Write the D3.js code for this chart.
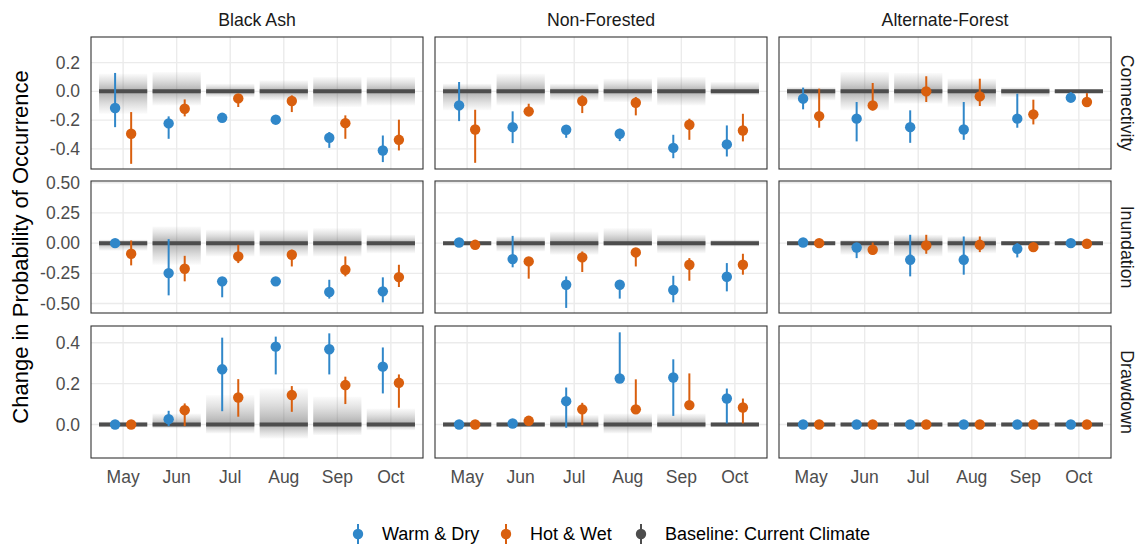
<!DOCTYPE html>
<html>
<head>
<meta charset="utf-8">
<script src="https://cdn.jsdelivr.net/npm/d3@7"></script>
<style>
body { margin: 0; background: #fff; }
text { font-family: "Liberation Sans", Arial, sans-serif; }
</style>
</head>
<body>
<svg width="1143" height="547"></svg>
<script>
var months = ["May", "Jun", "Jul", "Aug", "Sep", "Oct"];
var habitats = ["Black Ash", "Non-Forested", "Alternate-Forest"];
var metrics = ["Connectivity", "Inundation", "Drawdown"];

// [metric][habitat][month]
var warmMid = [
  [[-0.116,-0.223,-0.184,-0.197,-0.323,-0.411],[-0.098,-0.249,-0.267,-0.295,-0.393,-0.369],[-0.051,-0.19,-0.249,-0.265,-0.19,-0.044]],
  [[0.0,-0.248,-0.316,-0.316,-0.404,-0.399],[0.005,-0.132,-0.344,-0.344,-0.388,-0.278],[0.005,-0.036,-0.138,-0.138,-0.047,0.0]],
  [[0.0,0.026,0.27,0.381,0.368,0.283],[0.0,0.005,0.114,0.225,0.23,0.127],[0,0,0,0,0,0]]
];
var warmLo = [
  [[-0.249,-0.33,-0.2,-0.21,-0.393,-0.492],[-0.207,-0.36,-0.323,-0.346,-0.465,-0.453],[-0.125,-0.348,-0.358,-0.337,-0.253,-0.063]],
  [[0.0,-0.432,-0.448,-0.316,-0.459,-0.49],[0.005,-0.2,-0.536,-0.459,-0.49,-0.399],[0.005,-0.124,-0.275,-0.261,-0.118,0.0]],
  [[0.0,-0.008,0.065,0.245,0.245,0.152],[0.0,0.005,-0.016,0.209,0.042,0.005],[0,0,0,0,0,0]]
];
var warmHi = [
  [[0.128,-0.174,-0.17,-0.18,-0.283,-0.307],[0.065,-0.139,-0.237,-0.26,-0.302,-0.237],[0.026,-0.074,-0.132,-0.074,-0.016,-0.005]],
  [[0.0,0.033,-0.289,-0.316,-0.303,-0.283],[0.005,0.06,-0.275,-0.316,-0.27,-0.165],[0.005,0.0,0.069,0.055,0.0,0.0]],
  [[0.0,0.067,0.425,0.43,0.446,0.377],[0.0,0.005,0.181,0.451,0.319,0.176],[0,0,0,0,0,0]]
];
var hotMid = [
  [[-0.295,-0.121,-0.049,-0.067,-0.221,-0.337],[-0.265,-0.139,-0.067,-0.079,-0.232,-0.272],[-0.172,-0.098,0.0,-0.035,-0.16,-0.074]],
  [[-0.088,-0.212,-0.11,-0.096,-0.22,-0.281],[-0.014,-0.151,-0.118,-0.077,-0.179,-0.179],[0.0,-0.055,-0.019,-0.014,-0.033,-0.005]],
  [[0.0,0.07,0.132,0.144,0.193,0.204],[0.0,0.018,0.074,0.074,0.095,0.083],[0,0,0,0,0,0]]
];
var hotLo = [
  [[-0.504,-0.174,-0.109,-0.144,-0.33,-0.411],[-0.497,-0.174,-0.151,-0.167,-0.337,-0.348],[-0.253,-0.132,-0.074,-0.102,-0.23,-0.098]],
  [[-0.184,-0.316,-0.165,-0.193,-0.275,-0.363],[-0.014,-0.294,-0.239,-0.193,-0.311,-0.261],[0.0,-0.096,-0.088,-0.074,-0.033,-0.005]],
  [[0.0,-0.008,0.038,0.062,0.1,0.082],[0.0,0.018,-0.003,0.062,0.078,0.005],[0,0,0,0,0,0]]
];
var hotHi = [
  [[-0.144,-0.056,-0.021,-0.028,-0.167,-0.197],[-0.128,-0.086,-0.028,-0.039,-0.19,-0.156],[0.019,0.058,0.105,0.088,-0.058,-0.012]],
  [[0.022,-0.105,-0.014,-0.055,-0.11,-0.179],[-0.014,-0.146,-0.069,-0.041,-0.124,-0.088],[0.0,0.005,0.069,0.055,-0.033,-0.005]],
  [[0.0,0.103,0.222,0.188,0.234,0.245],[0.0,0.018,0.106,0.221,0.25,0.127],[0,0,0,0,0,0]]
];
// baseline uncertainty band
var baseLo = [
  [[-0.156,-0.098,-0.04,-0.063,-0.109,-0.098],[-0.132,-0.098,-0.063,-0.074,-0.098,-0.028],[-0.063,-0.132,-0.086,-0.109,-0.04,-0.012]],
  [[-0.063,-0.179,-0.11,-0.11,-0.11,-0.083],[-0.02,-0.069,-0.096,-0.028,-0.083,-0.03],[-0.015,-0.096,-0.11,-0.083,-0.02,-0.015]],
  [[-0.015,-0.02,-0.044,-0.069,-0.052,-0.028],[-0.015,-0.015,-0.02,-0.044,-0.02,-0.012],[-0.012,-0.012,-0.012,-0.012,-0.012,-0.012]]
];
var baseHi = [
  [[0.123,0.135,0.053,0.077,0.1,0.1],[0.053,0.123,0.053,0.088,0.1,0.065],[0.03,0.135,0.128,0.088,0.03,0.012]],
  [[0.03,0.138,0.11,0.11,0.124,0.07],[0.02,0.055,0.096,0.124,0.07,0.03],[0.015,0.028,0.069,0.055,0.02,0.015]],
  [[0.015,0.054,0.144,0.176,0.136,0.078],[0.015,0.015,0.046,0.054,0.054,0.012],[0.012,0.012,0.012,0.012,0.012,0.012]]
];

var yTicks = [[0.2, 0, -0.2, -0.4], [0.5, 0.25, 0, -0.25, -0.5], [0.4, 0.2, 0]];
var yFormats = [".1f", ".2f", ".1f"];
var yDomains = [[-0.54, 0.378], [-0.578, 0.514], [-0.164, 0.482]];

var seriesNames = ["Warm & Dry", "Hot & Wet", "Baseline: Current Climate"];
var seriesColors = ["#3087c9", "#d95f0e", "#4d4d4d"];

var svg = d3.select("svg");
var panelX = [91, 435, 779], panelY = [37, 181, 326];
var pw = 332, ph = 132;

var x = d3.scalePoint().domain(months).range([0, pw]).padding(0.6);
var step = x.step();
var dodge = step * 0.15;
var barW = step * 0.9;
var fmtMinus = function(f) { var g = d3.format(f); return function(v) { return g(v).replace("\u2212", "-"); }; };

var defs = svg.append("defs");
var gid = 0;

metrics.forEach(function(metric, r) {
  var y = d3.scaleLinear().domain(yDomains[r]).range([ph, 0]);
  var fmt = fmtMinus(yFormats[r]);

  habitats.forEach(function(hab, c) {
    var g = svg.append("g").attr("transform", "translate(" + panelX[c] + "," + panelY[r] + ")");

    // grid
    g.selectAll(".hg").data(yTicks[r]).enter().append("line")
      .attr("x1", 0).attr("x2", pw)
      .attr("y1", function(d) { return y(d); }).attr("y2", function(d) { return y(d); })
      .style("stroke", "#ebebeb").style("stroke-width", 1.4);
    g.selectAll(".vg").data(months).enter().append("line")
      .attr("x1", function(d) { return x(d); }).attr("x2", function(d) { return x(d); })
      .attr("y1", 0).attr("y2", ph)
      .style("stroke", "#ebebeb").style("stroke-width", 1.4);

    // baseline gradient bands
    months.forEach(function(m, i) {
      var lo = baseLo[r][c][i], hi = baseHi[r][c][i];
      var id = "grad" + (gid++);
      var z = (hi - 0) / (hi - lo);
      var lg = defs.append("linearGradient").attr("id", id)
        .attr("x1", 0).attr("x2", 0).attr("y1", 0).attr("y2", 1);
      lg.append("stop").attr("offset", 0).attr("stop-color", "#888").attr("stop-opacity", 0.03);
      lg.append("stop").attr("offset", z * 0.35).attr("stop-color", "#888").attr("stop-opacity", 0.22);
      lg.append("stop").attr("offset", z).attr("stop-color", "#666").attr("stop-opacity", 0.55);
      lg.append("stop").attr("offset", z + (1 - z) * 0.65).attr("stop-color", "#888").attr("stop-opacity", 0.22);
      lg.append("stop").attr("offset", 1).attr("stop-color", "#888").attr("stop-opacity", 0.03);
      g.append("rect")
        .attr("x", x(m) - barW / 2).attr("width", barW)
        .attr("y", y(hi)).attr("height", y(lo) - y(hi))
        .style("fill", "url(#" + id + ")");
    });

    // baseline line
    g.selectAll(".base").data(months).enter().append("line")
      .attr("x1", function(d) { return x(d) - barW / 2; })
      .attr("x2", function(d) { return x(d) + barW / 2; })
      .attr("y1", y(0)).attr("y2", y(0))
      .style("stroke", seriesColors[2]).style("stroke-width", 4);

    // scenarios
    var sets = [
      { mid: warmMid, lo: warmLo, hi: warmHi, off: -dodge, col: seriesColors[0] },
      { mid: hotMid, lo: hotLo, hi: hotHi, off: dodge, col: seriesColors[1] }
    ];
    sets.forEach(function(s) {
      months.forEach(function(m, i) {
        var cx = x(m) + s.off;
        g.append("line")
          .attr("x1", cx).attr("x2", cx)
          .attr("y1", y(s.lo[r][c][i])).attr("y2", y(s.hi[r][c][i]))
          .style("stroke", s.col).style("stroke-width", 2);
        g.append("circle")
          .attr("cx", cx).attr("cy", y(s.mid[r][c][i])).attr("r", 5.2)
          .style("fill", s.col);
      });
    });

    // border
    g.append("rect").attr("width", pw).attr("height", ph)
      .style("fill", "none").style("stroke", "#333").style("stroke-width", 1.1);

    // y labels
    if (c == 0) {
      g.selectAll(".yl").data(yTicks[r]).enter().append("text")
        .attr("x", -11).attr("y", function(d) { return y(d); })
        .attr("dy", "0.35em").attr("text-anchor", "end")
        .style("font-size", "17.5px").style("fill", "#4d4d4d")
        .text(fmt);
    }
    // x labels
    if (r == 2) {
      g.selectAll(".xl").data(months).enter().append("text")
        .attr("x", function(d) { return x(d); }).attr("y", ph + 25)
        .attr("text-anchor", "middle")
        .style("font-size", "17.5px").style("fill", "#4d4d4d")
        .text(function(d) { return d; });
    }
    // top strips
    if (r == 0) {
      svg.append("text").attr("x", panelX[c] + pw / 2).attr("y", 26)
        .attr("text-anchor", "middle").style("font-size", "17.7px").style("fill", "#1a1a1a")
        .text(hab);
    }
  });

  // right strip
  svg.append("text")
    .attr("transform", "translate(1121," + (panelY[r] + ph / 2) + ") rotate(90)")
    .attr("text-anchor", "middle").style("font-size", "17.7px").style("fill", "#1a1a1a")
    .text(metric);
});

// y title
svg.append("text")
  .attr("transform", "translate(28,247) rotate(-90)")
  .attr("text-anchor", "middle").style("font-size", "22px").style("fill", "#000")
  .text("Change in Probability of Occurrence");

// legend
var legX = [358, 506, 641];
var legY = 534;
seriesNames.forEach(function(name, i) {
  var lg = svg.append("g").attr("transform", "translate(" + legX[i] + "," + legY + ")");
  lg.append("line").attr("y1", -10).attr("y2", 10)
    .style("stroke", seriesColors[i]).style("stroke-width", 2);
  lg.append("circle").attr("r", 5.2).style("fill", seriesColors[i]);
  lg.append("text").attr("x", 24).attr("dy", "0.35em")
    .style("font-size", "18px").style("fill", "#000")
    .text(name);
});
</script>
</body>
</html>
